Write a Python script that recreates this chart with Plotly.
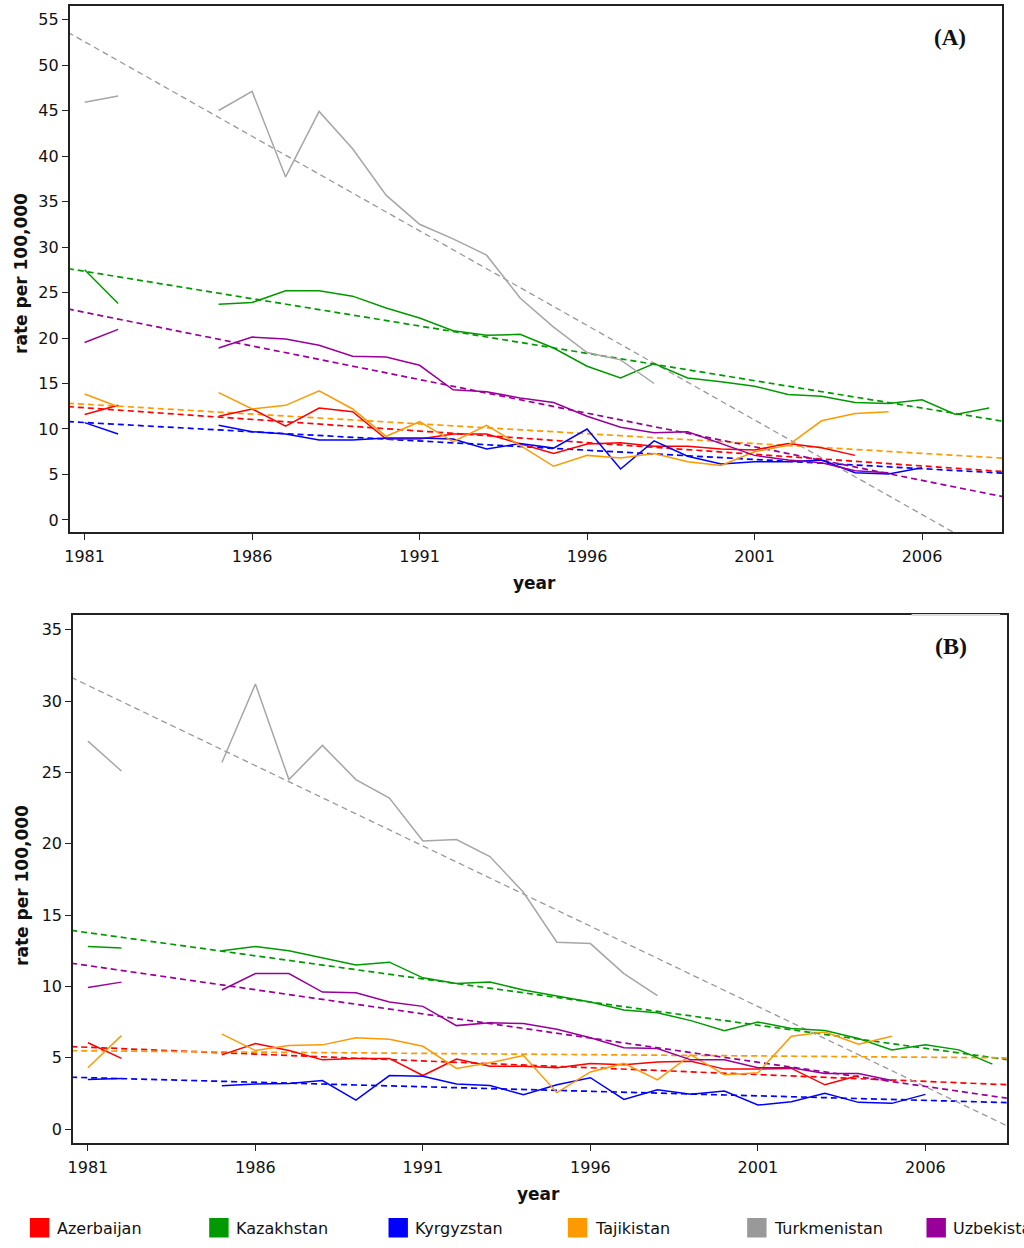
import plotly.graph_objects as go

# ---------------- data ----------------
years = [1981, 1982, 1983, 1984, 1985, 1986, 1987, 1988, 1989, 1990, 1991, 1992, 1993,
         1994, 1995, 1996, 1997, 1998, 1999, 2000, 2001, 2002, 2003, 2004, 2005, 2006,
         2007, 2008]
countries = ["Azerbaijan", "Kazakhstan", "Kyrgyzstan", "Tajikistan", "Turkmenistan", "Uzbekistan"]
colors = ["#FF0000", "#009900", "#0000FF", "#FF9900", "#999999", "#990099"]
N = None

# Panel A
a_azerbaijan = [11.6, 12.6, N, N, 11.4, 12.2, 10.3, 12.3, 11.9, 8.9, 8.9, 9.45, 9.45, 8.35,
                7.3, 8.35, 8.5, 8.1, 8.1, 7.8, 7.7, 8.4, 7.95, 7.1, N, N, N, N]
a_kazakhstan = [27.5, 23.8, N, N, 23.7, 23.9, 25.2, 25.2, 24.6, 23.3, 22.2, 20.8, 20.3, 20.4,
                18.9, 16.9, 15.6, 17.2, 15.6, 15.2, 14.7, 13.8, 13.6, 12.9, 12.8, 13.2, 11.6, 12.3]
a_kyrgyzstan = [10.7, 9.45, N, N, 10.4, 9.7, 9.45, 8.8, 8.8, 9.0, 9.0, 8.9, 7.8, 8.4,
                7.9, 10.0, 5.6, 8.7, 7.0, 6.15, 6.4, 6.4, 6.6, 5.2, 5.05, 5.75, N, N]
a_tajikistan = [13.85, 12.45, N, N, 14.0, 12.2, 12.6, 14.2, 12.2, 9.2, 10.8, 8.6, 10.4, 8.2,
                5.9, 7.1, 6.8, 7.3, 6.4, 6.0, 7.5, 8.2, 10.9, 11.7, 11.9, N, N, N]
a_turkmenistan = [45.9, 46.6, N, N, 45.0, 47.1, 37.7, 44.9, 40.8, 35.7, 32.5, 30.9, 29.1, 24.4,
                  21.2, 18.4, 17.6, 15.0, N, N, N, N, N, N, N, N, N, N]
a_uzbekistan = [19.5, 20.95, N, N, 18.9, 20.1, 19.9, 19.2, 18.0, 17.9, 17.0, 14.3, 14.1, 13.4,
                12.9, 11.4, 10.2, 9.6, 9.7, 8.4, 7.1, 6.6, 6.3, 5.4, 5.2, N, N, N]

# Panel B
b_azerbaijan = [6.05, 4.95, N, N, 5.2, 6.0, 5.5, 4.85, 4.95, 4.95, 3.75, 4.9, 4.4, 4.4,
                4.3, 4.6, 4.5, 4.7, 4.75, 4.2, 4.2, 4.25, 3.1, 3.75, N, N, N, N]
b_kazakhstan = [12.8, 12.7, N, N, 12.5, 12.8, 12.5, 12.0, 11.5, 11.7, 10.6, 10.2, 10.3, 9.75,
                9.35, 8.9, 8.35, 8.15, 7.6, 6.9, 7.5, 7.05, 6.9, 6.35, 5.55, 5.9, 5.55, 4.55]
b_kyrgyzstan = [3.48, 3.55, N, N, 3.04, 3.15, 3.2, 3.4, 2.03, 3.75, 3.7, 3.15, 3.05, 2.4,
                3.1, 3.6, 2.08, 2.75, 2.43, 2.67, 1.68, 1.92, 2.5, 1.87, 1.8, 2.43, N, N]
b_tajikistan = [4.3, 6.55, N, N, 6.65, 5.5, 5.85, 5.9, 6.4, 6.3, 5.8, 4.25, 4.65, 5.15,
                2.55, 4.0, 4.6, 3.45, 5.2, 3.8, 3.95, 6.5, 6.8, 5.95, 6.5, N, N, N]
b_turkmenistan = [27.2, 25.1, N, N, 25.7, 31.2, 24.5, 26.9, 24.5, 23.2, 20.2, 20.3, 19.1, 16.6,
                  13.1, 13.0, 10.9, 9.35, N, N, N, N, N, N, N, N, N, N]
b_uzbekistan = [9.93, 10.3, N, N, 9.75, 10.9, 10.9, 9.6, 9.55, 8.9, 8.6, 7.25, 7.45, 7.4,
                7.0, 6.4, 5.7, 5.65, 4.85, 4.85, 4.3, 4.3, 3.9, 3.9, 3.4, N, N, N]

# Linear trend lines (values read at 1980.5 and 2008.5)
trend_years = [1980.5, 2008.5]
a_trend = {
    "Azerbaijan": [12.46, 5.3],
    "Kazakhstan": [27.63, 10.8],
    "Kyrgyzstan": [10.81, 5.13],
    "Tajikistan": [12.83, 6.78],
    "Turkmenistan": [53.6, -4.6],
    "Uzbekistan": [23.19, 2.5],
}
b_trend = {
    "Azerbaijan": [5.78, 3.1],
    "Kazakhstan": [13.93, 4.85],
    "Kyrgyzstan": [3.63, 1.85],
    "Tajikistan": [5.49, 4.99],
    "Turkmenistan": [31.67, 0.15],
    "Uzbekistan": [11.63, 2.14],
}

a_series = [a_azerbaijan, a_kazakhstan, a_kyrgyzstan, a_tajikistan, a_turkmenistan, a_uzbekistan]
b_series = [b_azerbaijan, b_kazakhstan, b_kyrgyzstan, b_tajikistan, b_turkmenistan, b_uzbekistan]

x_ticks = [1981, 1986, 1991, 1996, 2001, 2006]
a_yticks = [0, 5, 10, 15, 20, 25, 30, 35, 40, 45, 50, 55]
b_yticks = [0, 5, 10, 15, 20, 25, 30, 35]
panel_labels = ["(A)", "(B)"]
x_title = "year"
y_title = "rate per 100,000"

# ---------------- figure ----------------
W, H = 1024, 1248
fig = go.Figure()

solid_colors = {"#999999": "#A6A6A6"}

for panel, (series, trend) in enumerate([(a_series, a_trend), (b_series, b_trend)]):
    xa = "x" if panel == 0 else "x2"
    ya = "y" if panel == 0 else "y2"
    for name, col in zip(countries, colors):
        fig.add_trace(go.Scatter(
            x=trend_years, y=trend[name], mode="lines", xaxis=xa, yaxis=ya,
            line=dict(color=col, width=1.3 if col == "#999999" else 1.7, dash="6px,4px"),
            showlegend=False, hoverinfo="skip"))
    for name, col, vals in zip(countries, colors, series):
        fig.add_trace(go.Scatter(
            x=years, y=vals, mode="lines", xaxis=xa, yaxis=ya, name=name,
            line=dict(color=solid_colors.get(col, col), width=1.5),
            connectgaps=False, showlegend=False))


def px_x(p):
    return p / W


def px_y(p):
    return 1 - p / H


tick_font = dict(family="DejaVu Sans", size=16, color="#111111")
axis_common = dict(showline=True, mirror=True, linecolor="#222222", linewidth=1.5,
                   ticks="outside", ticklen=6, tickwidth=1.3, tickcolor="#222222",
                   showgrid=False, zeroline=False, tickfont=tick_font)

fig.update_layout(
    width=W, height=H,
    margin=dict(l=0, r=0, t=0, b=0),
    paper_bgcolor="white", plot_bgcolor="white",
    showlegend=False,
    xaxis=dict(domain=[px_x(65), px_x(1002)], range=[1980.554, 2008.39],
               tickvals=x_ticks, anchor="y", ticklabelstandoff=3, **axis_common),
    yaxis=dict(domain=[px_y(532), px_y(5.5)], range=[-1.32, 56.54],
               tickvals=a_yticks, anchor="x", **axis_common),
    xaxis2=dict(domain=[px_x(68.3), px_x(1006.7)], range=[1980.554, 2008.43],
                tickvals=x_ticks, anchor="y2", ticklabelstandoff=3, **axis_common),
    yaxis2=dict(domain=[px_y(1143), px_y(615)], range=[-0.98, 36.04],
                tickvals=b_yticks, anchor="x2", **axis_common),
)

title_font = dict(family="DejaVu Sans", size=17, color="#111111")
annotations = [
    dict(text="<b>" + x_title + "</b>", x=px_x(532), y=px_y(583), font=title_font),
    dict(text="<b>" + x_title + "</b>", x=px_x(536), y=px_y(1194), font=title_font),
    dict(text="<b>" + y_title + "</b>", x=px_x(16), y=px_y(273), textangle=-90, font=title_font),
    dict(text="<b>" + y_title + "</b>", x=px_x(17), y=px_y(885), textangle=-90, font=title_font),
    dict(text="<b>" + panel_labels[0] + "</b>", x=px_x(950), y=px_y(37),
         font=dict(family="Liberation Serif", size=23, color="#111111")),
    dict(text="<b>" + panel_labels[1] + "</b>", x=px_x(951), y=px_y(646),
         font=dict(family="Liberation Serif", size=24, color="#111111")),
]
shapes = [
    # light segment on the top border of panel B
    dict(type="line", xref="paper", yref="paper", x0=px_x(911), x1=px_x(1000),
         y0=px_y(615), y1=px_y(615), line=dict(color="#DDDDDD", width=2.2), layer="above"),
]

# manual legend
legend_x0 = 25
legend_step = 180.2
for i, (name, col) in enumerate(zip(countries, colors)):
    sx = legend_x0 + i * legend_step
    shapes.append(dict(type="rect", xref="paper", yref="paper",
                       x0=px_x(sx), x1=px_x(sx + 19.5), y0=px_y(1237.5), y1=px_y(1218),
                       fillcolor=col, line=dict(width=0)))
    annotations.append(dict(text=name, x=px_x(sx + 25), y=px_y(1228), xanchor="left",
                            font=dict(family="DejaVu Sans", size=16, color="#111111")))

for a in annotations:
    a.setdefault("xref", "paper")
    a.setdefault("yref", "paper")
    a.setdefault("showarrow", False)
    a.setdefault("xanchor", "center")
    a.setdefault("yanchor", "middle")

fig.update_layout(annotations=annotations, shapes=shapes)

fig.write_html("out.html", config={"displayModeBar": False},
               post_script="document.body.style.margin='0';document.body.style.overflow='hidden';")
